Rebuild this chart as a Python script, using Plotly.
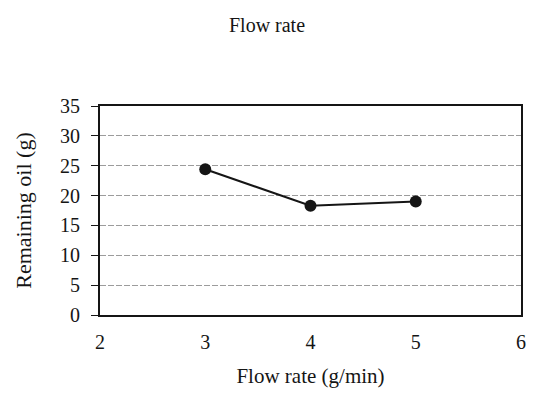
import plotly.graph_objects as go

# Flow rate experiment: remaining oil at each flow rate
flow_rate = [3, 4, 5]
remaining_oil = [24.4, 18.3, 19.0]

x_ticks = [2, 3, 4, 5, 6]
y_ticks = [0, 5, 10, 15, 20, 25, 30, 35]

font_family = "Liberation Serif, Times New Roman, serif"
ink = "#151515"

fig = go.Figure()
fig.add_trace(go.Scatter(
    x=flow_rate,
    y=remaining_oil,
    mode="lines+markers",
    line=dict(color=ink, width=2),
    marker=dict(color=ink, size=12),
    showlegend=False,
))

fig.update_layout(
    width=533,
    height=393,
    margin=dict(l=100, r=7, t=106, b=78),
    paper_bgcolor="white",
    plot_bgcolor="white",
    font=dict(family=font_family, color=ink),
    title=dict(
        text="Flow rate",
        x=267 / 533, xanchor="center",
        y=1 - 25 / 393, yanchor="middle",
        font=dict(size=20, family=font_family, color=ink),
    ),
)

fig.update_xaxes(
    range=[2, 6],
    tickmode="array",
    tickvals=x_ticks,
    ticktext=[str(v) for v in x_ticks],
    tickfont=dict(size=20, family=font_family),
    showgrid=False,
    zeroline=False,
    showline=True,
    linecolor=ink,
    linewidth=2,
    mirror=True,
    ticks="",
    ticklabelstandoff=8,
    title=dict(text="Flow rate (g/min)", font=dict(size=21, family=font_family), standoff=16),
)

fig.update_yaxes(
    range=[0, 35],
    tickmode="array",
    tickvals=y_ticks,
    ticktext=[str(v) for v in y_ticks],
    tickfont=dict(size=20, family=font_family),
    showgrid=True,
    gridcolor="#9c9c9c",
    gridwidth=1,
    griddash="6px,2px",
    zeroline=False,
    showline=True,
    linecolor=ink,
    linewidth=2,
    mirror=True,
    ticks="outside",
    ticklen=7,
    tickcolor=ink,
    tickwidth=1,
    ticklabelstandoff=7,
    title=dict(text="Remaining oil (g)", font=dict(size=22, family=font_family), standoff=22),
)

fig.write_html("out.html")
